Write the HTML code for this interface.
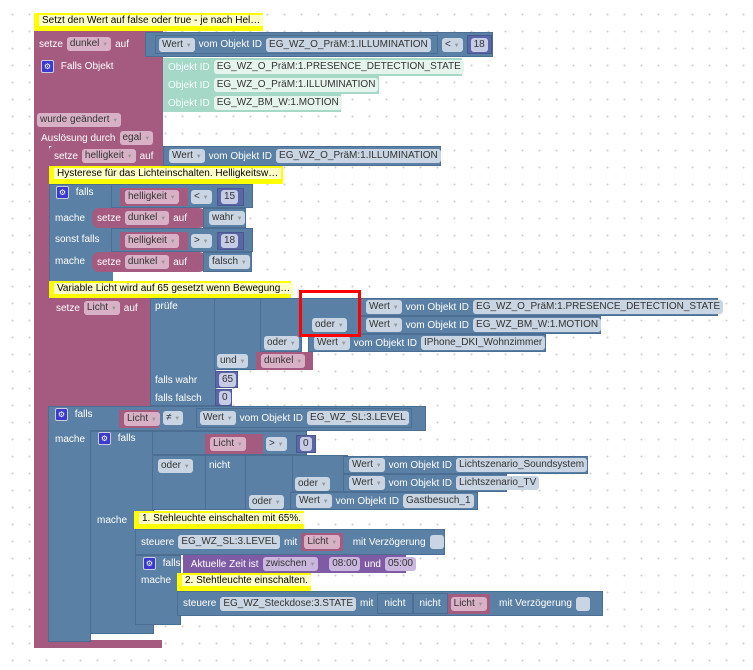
<!DOCTYPE html>
<html><head><meta charset="utf-8"><style>
body{margin:0;width:753px;height:670px;position:relative;overflow:hidden;background:#fff;
background-image:radial-gradient(circle,#cfcfcf 0.8px,transparent 1.2px);background-size:17px 17px;background-position:4px 6px;
font-family:"Liberation Sans",sans-serif;font-size:10px;color:#fff}
.a{position:absolute;box-sizing:border-box}
.m{background:#a55b80}
.u{background:#5b80a5;border:1px solid #4c6e92}
.v{background:#5b67a5;border:1px solid #4b5790}
.pt{background:#7f5ba5}
.t{background:#a5d8c6;color:#f4fffb}
.y{background:#ffff00;color:#000;padding:2px 3px 0 5px;white-space:nowrap;font-size:10px;height:18px}
.y span{background:#ffffc8;padding:0 3px}
.r{display:flex;align-items:center;gap:4px;white-space:nowrap;padding-left:5px}
.p,.pm,.pt2,.pv,.pp{color:#333;border-radius:3px;padding:0 3px;height:14px;line-height:14px;display:inline-block}
.p{background:#c9d5e2}.pm{background:#d8b1c6}.pt2{background:#e6f4ee}.pv{background:#c6cbe6}.pp{background:#c9b7dd}
.d{color:#999;font-size:6px}
.lb{position:absolute;white-space:nowrap}
.g{display:inline-block;width:11px;height:11px;background:#3a3ad0;border-radius:2px;border:1px solid #ccd;color:#fff;font-size:8px;line-height:11px;text-align:center}
</style></head><body>

<div class="a m" style="left:34px;top:31px;width:129px;height:115px"></div>
<div class="a m" style="left:34px;top:140px;width:15px;height:508px"></div>
<div class="a m" style="left:34px;top:640px;width:128px;height:8px"></div>
<div class="a y" style="left:34px;top:13px;width:229px"><span>Setzt den Wert auf false oder true - je nach Hel…</span></div>
<div class="a r" style="left:34px;top:35px;height:18px"><span>setze</span><span class="pm">dunkel <span class="d">▼</span></span><span>auf</span></div>
<div class="a u r" style="left:145px;top:32px;width:348px;height:25px;padding-left:9px">
 <span class="a u r" style="position:static;height:19px;width:305px;padding-left:3px"><span class="p">Wert <span class="d">▼</span></span><span>vom Objekt ID</span><span class="p">EG_WZ_O_PräM:1.ILLUMINATION</span></span>
 <span class="p">&lt; <span class="d">▼</span></span>
 <span class="a v r" style="position:static;height:19px;width:27px;padding-left:3px"><span class="pv">18</span></span></div>
<div class="a r" style="left:36px;top:60px"><span class="g">⚙</span><span>&nbsp;Falls Objekt</span></div>
<div class="a t r" style="left:163px;top:58px;width:299px;height:18px"><span>Objekt ID</span><span class="pt2">EG_WZ_O_PräM:1.PRESENCE_DETECTION_STATE</span></div>
<div class="a t r" style="left:163px;top:76px;width:216px;height:18px"><span>Objekt ID</span><span class="pt2">EG_WZ_O_PräM:1.ILLUMINATION</span></div>
<div class="a t r" style="left:163px;top:94px;width:178px;height:18px"><span>Objekt ID</span><span class="pt2">EG_WZ_BM_W:1.MOTION</span></div>
<div class="a" style="left:37px;top:113px"><span class="pm">wurde geändert <span class="d">▼</span></span></div>
<div class="a r" style="left:36px;top:131px"><span>Auslösung durch</span><span class="pm">egal <span class="d">▼</span></span></div>

<div class="a m r" style="left:49px;top:146px;width:115px;height:20px;border-radius:4px 0 0 0"><span>setze</span><span class="pm">helligkeit <span class="d">▼</span></span><span>auf</span></div>
<div class="a u r" style="left:163px;top:146px;width:278px;height:20px"><span class="p">Wert <span class="d">▼</span></span><span>vom Objekt ID</span><span class="p">EG_WZ_O_PräM:1.ILLUMINATION</span></div>
<div class="a y" style="left:49px;top:166px;width:234px"><span>Hysterese für das Lichteinschalten. Helligkeitsw…</span></div>

<div class="a u" style="left:49px;top:184px;width:64px;height:98px;border-right:none"></div>
<div class="a u" style="left:111px;top:184px;width:142px;height:24px"></div>
<div class="a u" style="left:111px;top:228px;width:142px;height:24px"></div>
<div class="a r" style="left:51px;top:186px"><span class="g">⚙</span><span>&nbsp;falls</span></div>
<div class="a m r" style="left:120px;top:188px;width:68px;height:18px"><span class="pm">helligkeit <span class="d">▼</span></span></div>
<div class="a" style="left:191px;top:190px"><span class="p">&lt; <span class="d">▼</span></span></div>
<div class="a v r" style="left:217px;top:188px;width:27px;height:18px;padding-left:3px"><span class="pv">15</span></div>
<div class="lb" style="left:55px;top:213px">mache</div>
<div class="a m r" style="left:92px;top:208px;width:114px;height:20px;border-radius:7px"><span>setze</span><span class="pm">dunkel <span class="d">▼</span></span><span>auf</span></div>
<div class="a u r" style="left:203px;top:208px;width:43px;height:20px"><span class="p">wahr <span class="d">▼</span></span></div>
<div class="lb" style="left:55px;top:234px">sonst falls</div>
<div class="a m r" style="left:120px;top:232px;width:68px;height:18px"><span class="pm">helligkeit <span class="d">▼</span></span></div>
<div class="a" style="left:191px;top:234px"><span class="p">&gt; <span class="d">▼</span></span></div>
<div class="a v r" style="left:217px;top:232px;width:27px;height:18px;padding-left:3px"><span class="pv">18</span></div>
<div class="lb" style="left:55px;top:256px">mache</div>
<div class="a m r" style="left:92px;top:252px;width:114px;height:20px;border-radius:7px"><span>setze</span><span class="pm">dunkel <span class="d">▼</span></span><span>auf</span></div>
<div class="a u r" style="left:203px;top:252px;width:49px;height:20px"><span class="p">falsch <span class="d">▼</span></span></div>

<div class="a y" style="left:49px;top:281px;width:242px"><span>Variable Licht wird auf 65 gesetzt wenn Bewegung…</span></div>
<div class="a m" style="left:49px;top:298px;width:102px;height:108px"></div>
<div class="a r" style="left:51px;top:301px"><span>setze</span><span class="pm">Licht <span class="d">▼</span></span><span>auf</span></div>
<div class="a u" style="left:150px;top:298px;width:66px;height:108px"></div>
<div class="lb" style="left:155px;top:301px">prüfe</div>
<div class="lb" style="left:155px;top:375px">falls wahr</div>
<div class="lb" style="left:155px;top:393px">falls falsch</div>
<div class="a u" style="left:214px;top:298px;width:48px;height:72px"></div>
<div class="a u" style="left:260px;top:298px;width:42px;height:54px"></div>
<div class="a u" style="left:300px;top:298px;width:62px;height:37px"></div>
<div class="a u r" style="left:360px;top:298px;width:358px;height:18px"><span class="p">Wert <span class="d">▼</span></span><span>vom Objekt ID</span><span class="p">EG_WZ_O_PräM:1.PRESENCE_DETECTION_STATE</span></div>
<div class="a u r" style="left:360px;top:316px;width:241px;height:18px"><span class="p">Wert <span class="d">▼</span></span><span>vom Objekt ID</span><span class="p">EG_WZ_BM_W:1.MOTION</span></div>
<div class="a" style="left:312px;top:318px"><span class="p">oder <span class="d">▼</span></span></div>
<div class="a" style="left:264px;top:336px"><span class="p">oder <span class="d">▼</span></span></div>
<div class="a u r" style="left:308px;top:334px;width:238px;height:18px"><span class="p">Wert <span class="d">▼</span></span><span>vom Objekt ID</span><span class="p">IPhone_DKI_Wohnzimmer</span></div>
<div class="a" style="left:217px;top:354px"><span class="p">und <span class="d">▼</span></span></div>
<div class="a m r" style="left:256px;top:352px;width:57px;height:18px"><span class="pm">dunkel <span class="d">▼</span></span></div>
<div class="a v r" style="left:215px;top:371px;width:23px;height:17px;padding-left:3px"><span class="pv">65</span></div>
<div class="a v r" style="left:215px;top:389px;width:17px;height:17px;padding-left:3px"><span class="pv">0</span></div>
<div class="a" style="left:299px;top:290px;width:62px;height:47px;border:3px solid #f00"></div>

<div class="a u" style="left:48px;top:406px;width:378px;height:25px"></div>
<div class="a u" style="left:48px;top:430px;width:43px;height:212px;border-top:none"></div>
<div class="a r" style="left:50px;top:408px"><span class="g">⚙</span><span>&nbsp;falls</span></div>
<div class="a m r" style="left:119px;top:410px;width:40px;height:18px"><span class="pm">Licht <span class="d">▼</span></span></div>
<div class="a" style="left:163px;top:411px"><span class="p">≠ <span class="d">▼</span></span></div>
<div class="a u r" style="left:196px;top:408px;width:216px;height:20px;padding-left:3px"><span class="p">Wert <span class="d">▼</span></span><span>vom Objekt ID</span><span class="p">EG_WZ_SL:3.LEVEL</span></div>
<div class="lb" style="left:55px;top:434px">mache</div>

<div class="a u" style="left:90px;top:431px;width:64px;height:203px"></div>
<div class="a u" style="left:152px;top:431px;width:155px;height:24px"></div>
<div class="a u" style="left:152px;top:455px;width:55px;height:55px"></div>
<div class="a u" style="left:205px;top:455px;width:42px;height:55px"></div>
<div class="a u" style="left:245px;top:455px;width:55px;height:55px"></div>
<div class="a u" style="left:292px;top:455px;width:56px;height:37px"></div>
<div class="a r" style="left:93px;top:432px"><span class="g">⚙</span><span>&nbsp;falls</span></div>
<div class="a m r" style="left:205px;top:434px;width:58px;height:20px"><span class="pm">Licht <span class="d">▼</span></span></div>
<div class="a" style="left:266px;top:437px"><span class="p">&gt; <span class="d">▼</span></span></div>
<div class="a v r" style="left:296px;top:435px;width:20px;height:18px;padding-left:3px"><span class="pv">0</span></div>
<div class="a" style="left:158px;top:459px"><span class="p">oder <span class="d">▼</span></span></div>
<div class="lb" style="left:209px;top:460px">nicht</div>
<div class="a u r" style="left:343px;top:456px;width:245px;height:18px"><span class="p">Wert <span class="d">▼</span></span><span>vom Objekt ID</span><span class="p">Lichtszenario_Soundsystem</span></div>
<div class="a" style="left:295px;top:477px"><span class="p">oder <span class="d">▼</span></span></div>
<div class="a u r" style="left:343px;top:474px;width:164px;height:18px"><span class="p">Wert <span class="d">▼</span></span><span>vom Objekt ID</span><span class="p">Lichtszenario_TV</span></div>
<div class="a" style="left:249px;top:495px"><span class="p">oder <span class="d">▼</span></span></div>
<div class="a u r" style="left:290px;top:492px;width:188px;height:18px"><span class="p">Wert <span class="d">▼</span></span><span>vom Objekt ID</span><span class="p">Gastbesuch_1</span></div>
<div class="lb" style="left:97px;top:515px">mache</div>
<div class="a y" style="left:134px;top:511px;width:170px"><span>1. Stehleuchte einschalten mit 65%.</span></div>
<div class="a u r" style="left:135px;top:529px;width:310px;height:26px"><span>steuere</span><span class="p">EG_WZ_SL:3.LEVEL</span><span>mit</span><span class="a m r" style="position:static;height:18px;padding:0 3px"><span class="pm">Licht <span class="d">▼</span></span></span><span>&nbsp;&nbsp;mit Verzögerung</span><span class="p" style="width:8px"></span></div>
<div class="a u" style="left:135px;top:555px;width:46px;height:70px"></div>
<div class="a r" style="left:138px;top:557px"><span class="g">⚙</span><span>&nbsp;falls</span></div>
<div class="a pt r" style="left:183px;top:555px;width:223px;height:18px"><span>&nbsp;Aktuelle Zeit ist</span><span class="pp">zwischen <span class="d">▼</span></span><span>&nbsp;</span><span class="pp">08:00</span><span>und</span><span class="pp">05:00</span></div>
<div class="lb" style="left:141px;top:575px">mache</div>
<div class="a y" style="left:177px;top:573px;width:134px"><span>2. Stehtleuchte einschalten.</span></div>
<div class="a u r" style="left:177px;top:591px;width:426px;height:25px"><span>steuere</span><span class="p">EG_WZ_Steckdose:3.STATE</span><span>mit</span><span class="a u r" style="position:static;height:21px;padding:0 6px">nicht</span><span class="a u r" style="position:static;height:21px;padding:0 6px;margin-left:-4px">nicht</span><span class="a m r" style="position:static;height:20px;padding:0 3px;margin-left:-4px"><span class="pm">Licht <span class="d">▼</span></span></span><span>&nbsp;&nbsp;mit Verzögerung</span><span class="p" style="width:8px"></span></div>
</body></html>
